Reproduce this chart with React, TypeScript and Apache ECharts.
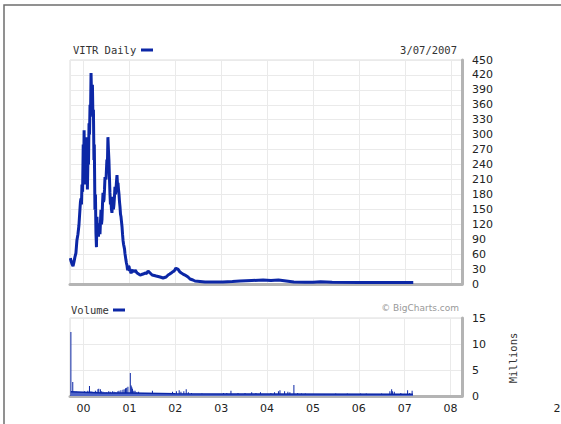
import React, { useEffect, useRef } from "react";
import * as echarts from "echarts";

const priceDates = [
  "1999-09-23", "1999-09-28", "1999-10-06", "1999-10-14", "1999-10-22", "1999-10-29", "1999-11-06", "1999-11-14",
  "1999-11-22", "1999-11-30", "1999-12-08", "1999-12-12", "1999-12-16", "1999-12-20", "1999-12-24", "1999-12-29",
  "2000-01-03", "2000-01-05", "2000-01-07", "2000-01-10", "2000-01-12", "2000-01-14", "2000-01-17", "2000-01-21",
  "2000-01-25", "2000-01-28", "2000-02-02", "2000-02-05", "2000-02-08", "2000-02-10", "2000-02-14", "2000-02-18",
  "2000-02-22", "2000-02-26", "2000-03-01", "2000-03-05", "2000-03-08", "2000-03-12", "2000-03-16", "2000-03-20",
  "2000-03-24", "2000-03-28", "2000-03-31", "2000-04-05", "2000-04-09", "2000-04-13", "2000-04-17", "2000-04-21",
  "2000-04-25", "2000-04-29", "2000-05-03", "2000-05-07", "2000-05-11", "2000-05-15", "2000-05-19", "2000-05-23",
  "2000-05-27", "2000-05-31", "2000-06-04", "2000-06-08", "2000-06-12", "2000-06-16", "2000-06-20", "2000-06-24",
  "2000-07-02", "2000-07-09", "2000-07-13", "2000-07-17", "2000-07-21", "2000-07-25", "2000-07-29", "2000-08-02",
  "2000-08-06", "2000-08-10", "2000-08-14", "2000-08-18", "2000-08-22", "2000-08-26", "2000-08-30", "2000-09-03",
  "2000-09-07", "2000-09-11", "2000-09-15", "2000-09-19", "2000-09-23", "2000-09-27", "2000-10-01", "2000-10-05",
  "2000-10-09", "2000-10-13", "2000-10-17", "2000-10-21", "2000-10-25", "2000-10-29", "2000-11-02", "2000-11-06",
  "2000-11-10", "2000-11-14", "2000-11-18", "2000-11-22", "2000-11-26", "2000-11-29", "2000-12-03", "2000-12-07",
  "2000-12-11", "2000-12-15", "2000-12-19", "2000-12-23", "2000-12-28", "2001-01-02", "2001-01-05", "2001-01-09",
  "2001-01-13", "2001-01-17", "2001-01-25", "2001-02-02", "2001-02-10", "2001-02-18", "2001-02-26", "2001-03-06",
  "2001-03-18", "2001-03-30", "2001-04-10", "2001-04-22", "2001-05-08", "2001-05-20", "2001-06-01", "2001-06-17",
  "2001-07-03", "2001-07-20", "2001-08-04", "2001-08-20", "2001-09-04", "2001-09-28", "2001-10-10", "2001-10-22",
  "2001-11-07", "2001-11-20", "2001-12-01", "2001-12-15", "2001-12-25", "2002-01-08", "2002-01-16", "2002-01-24",
  "2002-02-09", "2002-02-20", "2002-03-05", "2002-03-21", "2002-04-14", "2002-04-30", "2002-05-23", "2002-06-08",
  "2002-07-18", "2002-08-27", "2002-10-05", "2003-01-15", "2003-04-01", "2003-06-01", "2003-09-01", "2003-12-01",
  "2004-02-01", "2004-04-01", "2004-06-01", "2004-08-01", "2004-11-01", "2005-01-01", "2005-03-01", "2005-06-01",
  "2006-01-01", "2006-06-01", "2006-10-01", "2007-01-01", "2007-03-07",
];
const priceValues = [
  52, 46, 40, 36, 45, 54, 62, 88,
  100, 118, 150, 165, 172, 160, 200, 185,
  280, 225, 240, 309, 240, 275, 260, 200,
  230, 215, 295, 190, 230, 260, 240, 323,
  300, 360, 340, 424, 390, 384, 400, 336,
  350, 249, 280, 149, 180, 102, 74, 135,
  105, 110, 95, 122, 110, 100, 125, 149,
  120, 130, 160, 183, 165, 170, 190, 215,
  210, 250, 240, 295, 270, 249, 215, 183,
  160, 170, 150, 143, 160, 175, 150, 160,
  175, 195, 180, 190, 205, 219, 200, 203,
  190, 180, 165, 155, 140, 135, 125, 115,
  100, 88, 80, 75, 70, 62, 55, 48,
  42, 38, 30, 28, 36, 34, 26, 30,
  24, 22, 26, 28, 24, 28, 25, 22,
  20, 18, 19, 20, 22, 21, 26, 22,
  18, 17, 16, 15, 14, 12, 13, 14,
  18, 20, 22, 25, 26, 32, 30, 30,
  24, 22, 20, 18, 14, 10, 8, 6,
  5, 4, 4, 4, 5, 6, 7, 8,
  7, 8, 6, 4, 3.5, 3.5, 4.5, 3.5,
  3, 3, 3, 3, 3,
];

const volumeDates = [
  "1999-09-23", "1999-10-08", "1999-11-05", "1999-12-01", "2000-01-10", "2000-01-25", "2000-02-05", "2000-02-18",
  "2000-03-01", "2000-03-15", "2000-04-05", "2000-04-12", "2000-04-25", "2000-05-02", "2000-05-15", "2000-05-25",
  "2000-06-05", "2000-06-20", "2000-07-05", "2000-07-20", "2000-08-01", "2000-08-20", "2000-09-01", "2000-09-15",
  "2000-10-01", "2000-10-10", "2000-10-25", "2000-11-10", "2000-11-20", "2000-12-01", "2000-12-10", "2000-12-20",
  "2001-01-08", "2001-01-15", "2001-01-20", "2001-01-25", "2001-02-05", "2001-02-15", "2001-03-01", "2001-03-15",
  "2001-04-15", "2001-05-01", "2001-07-03", "2001-12-10", "2002-01-10", "2002-02-01", "2002-02-15", "2002-03-10",
  "2002-03-29", "2002-04-15", "2002-05-10", "2002-08-01", "2003-01-20", "2003-02-15", "2003-03-20", "2003-05-15",
  "2003-07-10", "2003-09-01", "2003-10-05", "2003-11-10", "2004-02-01", "2004-03-01", "2004-04-01", "2004-04-13",
  "2004-05-20", "2004-06-15", "2004-07-01", "2004-08-02", "2004-09-01", "2004-10-01", "2004-11-01", "2005-04-01",
  "2005-07-01", "2005-10-01", "2006-01-15", "2006-03-01", "2006-07-01", "2006-09-05", "2006-09-19", "2006-09-25",
  "2006-10-10", "2006-12-01", "2007-01-24", "2007-02-10", "2007-03-01",
];
const volumeValues = [
  12.3, 2.7, 0.8, 0.6, 0.9, 0.7, 1.0, 1.9,
  0.9, 0.8, 1.0, 0.8, 1.3, 1.4, 1.3, 0.9,
  0.8, 0.7, 0.7, 0.9, 0.8, 0.9, 0.8, 0.7,
  0.9, 1.0, 1.1, 1.2, 1.3, 1.5, 1.6, 1.8,
  4.4, 2.0, 1.7, 1.4, 1.0, 1.0, 0.7, 0.8,
  0.6, 0.6, 1.0, 0.8, 0.9, 1.1, 0.8, 0.9,
  1.3, 0.7, 0.6, 0.5, 0.6, 0.6, 1.0, 0.6,
  0.6, 0.7, 0.6, 0.7, 0.6, 0.7, 0.9, 1.1,
  0.9, 0.8, 0.7, 2.1, 0.6, 0.5, 0.5, 0.4,
  0.5, 0.5, 0.5, 0.5, 0.5, 0.9, 1.3, 0.9,
  0.8, 0.6, 1.1, 0.6, 1.0,
];

const volumeBaseDates = ["1999-09-23", "2000-06-01", "2001-01-01", "2002-01-01", "2003-01-01", "2007-03-07"];
const volumeBaseValues = [0.8, 0.6, 0.6, 0.45, 0.4, 0.35];

const priceTicks = { min: 0, max: 450, interval: 30 };
const volumeTicks = { min: 0, max: 15, interval: 5 };
const axisRange = { min: "1999-09-20", max: "2008-03-28" };

const BLUE = "#0c27a6";
const MONO = "'DejaVu Sans Mono', monospace";
const SANS = "'DejaVu Sans', Verdana, sans-serif";

export default function App() {
  const ref = useRef<HTMLDivElement>(null);

  useEffect(() => {
    if (!ref.current) return;
    const chart = echarts.init(ref.current, undefined, { renderer: "svg" });
    const price = priceDates.map((d, i) => [d, priceValues[i]]);
    const vol = volumeDates.map((d, i) => [d, volumeValues[i]]);
    const base = volumeBaseDates.map((d, i) => [d, volumeBaseValues[i]]);
    const yearMs = 365.25 * 24 * 3600 * 1000;

    const xCommon = {
      type: "time",
      min: axisRange.min,
      max: axisRange.max,
      minInterval: yearMs,
      maxInterval: yearMs,
      splitNumber: 9,
      axisTick: { show: false },
      axisLine: { show: true, lineStyle: { color: "#b4b4b4", width: 3 } },
      splitLine: { show: true, lineStyle: { color: "#eaeaea", width: 1 } },
    };

    chart.setOption({
      animation: false,
      backgroundColor: "#ffffff",
      grid: [
        { left: 70, top: 60, width: 392, height: 224, show: true, borderColor: "#dcdcdc", borderWidth: 1 },
        { left: 70, top: 318, width: 392, height: 78, show: true, borderColor: "#dcdcdc", borderWidth: 1 },
      ],
      xAxis: [
        { ...xCommon, gridIndex: 0, axisLabel: { show: false } },
        {
          ...xCommon,
          gridIndex: 1,
          axisLabel: {
            show: true,
            margin: 7,
            color: "#222",
            fontFamily: SANS,
            fontSize: 11,
            showMinLabel: false,
            showMaxLabel: false,
            formatter: (v: number) => String(new Date(v).getUTCFullYear()).slice(2),
          },
        },
      ],
      yAxis: [
        {
          type: "value",
          gridIndex: 0,
          position: "right",
          ...priceTicks,
          axisLine: { show: true, lineStyle: { color: "#b4b4b4", width: 3 } },
          axisTick: { show: false },
          splitLine: { show: true, lineStyle: { color: "#eaeaea" } },
          axisLabel: { margin: 10, color: "#222", fontFamily: SANS, fontSize: 11 },
        },
        {
          type: "value",
          gridIndex: 1,
          position: "right",
          ...volumeTicks,
          axisLine: { show: true, lineStyle: { color: "#b4b4b4", width: 3 } },
          axisTick: { show: false },
          splitLine: { show: true, lineStyle: { color: "#eaeaea" } },
          axisLabel: { margin: 10, color: "#222", fontFamily: SANS, fontSize: 11 },
        },
      ],
      series: [
        {
          type: "line",
          xAxisIndex: 0,
          yAxisIndex: 0,
          data: price,
          showSymbol: false,
          lineStyle: { color: BLUE, width: 3 },
        },
        {
          type: "line",
          xAxisIndex: 1,
          yAxisIndex: 1,
          data: base,
          showSymbol: false,
          lineStyle: { color: BLUE, width: 1.5 },
          areaStyle: { color: "#4d63c8", opacity: 1 },
        },
        {
          type: "bar",
          xAxisIndex: 1,
          yAxisIndex: 1,
          data: vol,
          barWidth: 1,
          itemStyle: { color: BLUE },
        },
      ],
      graphic: [
        {
          type: "rect",
          shape: { x: 4, y: 5, width: 620, height: 500 },
          style: { fill: "none", stroke: "#6e6e6e", lineWidth: 1.5 },
        },
        {
          type: "text",
          x: 73,
          y: 50,
          style: { text: "VITR Daily", fill: "#333", font: `10.5px ${MONO}`, textVerticalAlign: "middle" },
        },
        { type: "rect", shape: { x: 141, y: 48.5, width: 12, height: 3 }, style: { fill: BLUE } },
        {
          type: "text",
          x: 457,
          y: 50,
          style: { text: "3/07/2007", fill: "#333", font: `10.5px ${MONO}`, textAlign: "right", textVerticalAlign: "middle" },
        },
        {
          type: "text",
          x: 71,
          y: 310,
          style: { text: "Volume", fill: "#333", font: `10.5px ${MONO}`, textVerticalAlign: "middle" },
        },
        { type: "rect", shape: { x: 113, y: 308.5, width: 12, height: 3 }, style: { fill: BLUE } },
        {
          type: "text",
          x: 459,
          y: 308,
          style: { text: "© BigCharts.com", fill: "#999", font: `9px ${SANS}`, textAlign: "right", textVerticalAlign: "middle" },
        },
        {
          type: "text",
          x: 513,
          y: 358,
          rotation: Math.PI / 2,
          style: { text: "Millions", fill: "#333", font: `10.5px ${MONO}`, textAlign: "center", textVerticalAlign: "middle" },
        },
        {
          type: "text",
          x: 557,
          y: 408,
          style: { text: "2", fill: "#222", font: `11px ${SANS}`, textAlign: "center", textVerticalAlign: "middle" },
        },
      ],
    });
    return () => chart.dispose();
  }, []);

  return <div ref={ref} style={{ position: "fixed", left: 0, top: 0, width: 561, height: 424 }} />;
}
